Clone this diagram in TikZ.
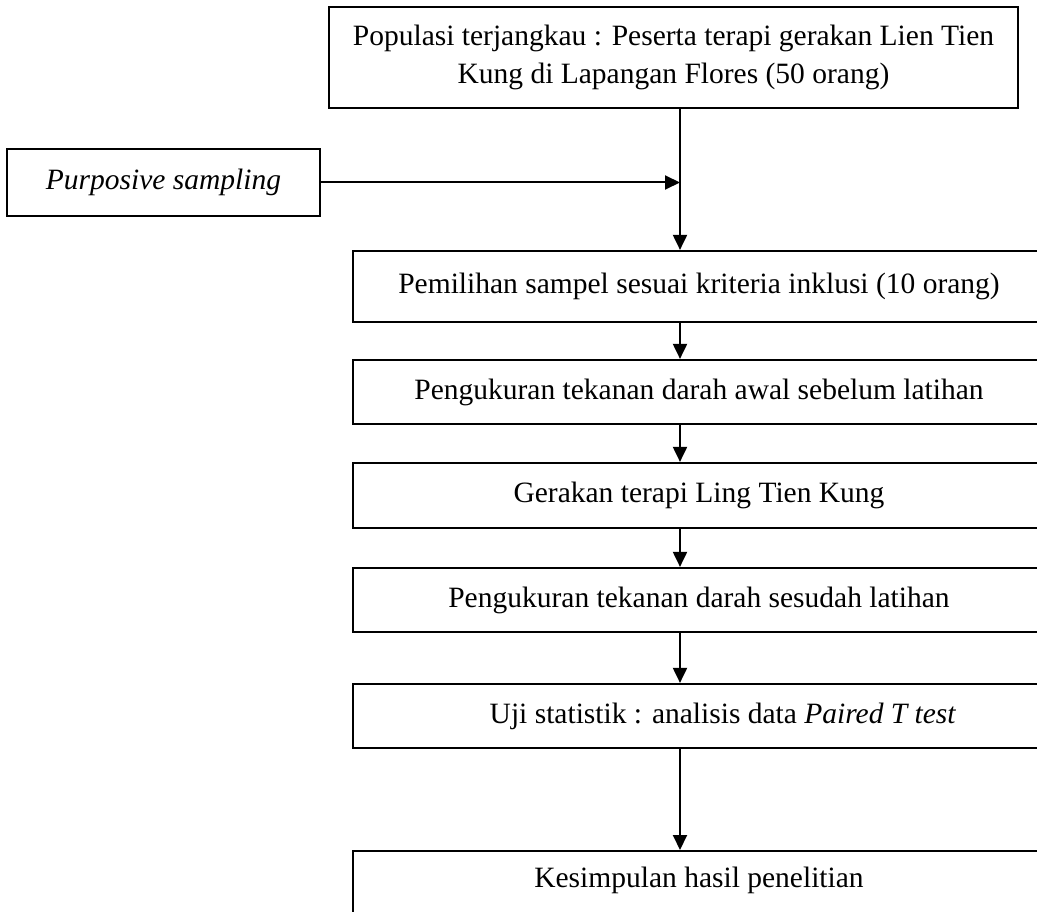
\documentclass[tikz,border=0pt]{standalone}
\usepackage{fontspec}
\setmainfont{Liberation Serif}
\usetikzlibrary{arrows.meta}
\begin{document}
\begin{tikzpicture}[x=1pt,y=-1pt,
  base/.style={draw,line width=2.2pt,inner sep=0pt,align=center,font=\fontsize{29.5}{38}\selectfont},
  tbox/.style={base,minimum width=692pt,text height=20pt,text depth=6pt},
  arr/.style={line width=2pt,-{Triangle[length=15pt,width=14pt]}}]
\useasboundingbox (0,0) rectangle (1037,912);
\fill[white] (0,0) rectangle (1037,912);
\node[base,minimum width=689pt,minimum height=101pt] (top) at (673.5,57.5)
  {Populasi terjangkau : Peserta terapi gerakan Lien Tien\\Kung di Lapangan Flores (50 orang)};
\node[base,minimum width=313pt,minimum height=67pt,text height=20pt,text depth=6pt] (ps) at (163.5,182.5)
  {\textit{Purposive sampling}};
\node[tbox,minimum height=71pt] (b2) at (699,286.5) {Pemilihan sampel sesuai kriteria inklusi (10 orang)};
\node[tbox,minimum height=64pt] (b3) at (699,392) {Pengukuran tekanan darah awal sebelum latihan};
\node[tbox,minimum height=65pt] (b4) at (699,495.5) {Gerakan terapi Ling Tien Kung};
\node[tbox,minimum height=64pt] (b5) at (699,600) {Pengukuran tekanan darah sesudah latihan};
\node[tbox,minimum height=64pt] (b6) at (699,716) {\hspace*{48pt}Uji statistik : analisis data \textit{Paired T test}};
\node[base,minimum width=692pt,anchor=north,text height=36.5pt,text depth=40pt] (b7) at (699,850) {Kesimpulan hasil penelitian};
\coordinate (ax) at (680,0);
\coordinate (join) at (680,182.5);
\draw[arr] (ps.east) -- (join);
\draw[arr] (top.south -| ax) -- (b2.north -| ax);
\draw[arr] (b2.south -| ax) -- (b3.north -| ax);
\draw[arr] (b3.south -| ax) -- (b4.north -| ax);
\draw[arr] (b4.south -| ax) -- (b5.north -| ax);
\draw[arr] (b5.south -| ax) -- (b6.north -| ax);
\draw[arr] (b6.south -| ax) -- (b7.north -| ax);
\end{tikzpicture}
\end{document}
